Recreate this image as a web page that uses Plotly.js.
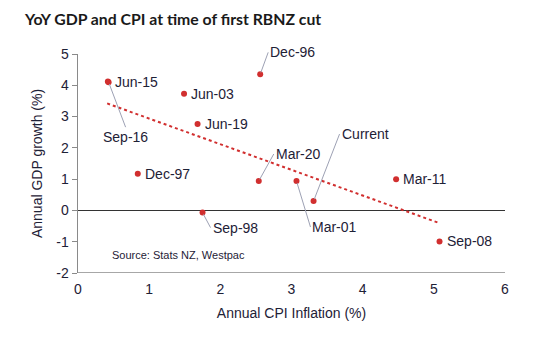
<!DOCTYPE html>
<html>
<head>
<meta charset="utf-8">
<script src="https://cdn.plot.ly/plotly-3.0.1.min.js"></script>
<style>html,body{margin:0;padding:0;background:#fff}#chart{width:544px;height:348px}</style>
</head>
<body>
<div id="chart"></div>
<script>
// Data
var labels = ["Jun-15", "Sep-16", "Jun-03", "Jun-19", "Dec-96", "Dec-97", "Sep-98", "Mar-20", "Mar-01", "Current", "Mar-11", "Sep-08"];
var cpi    = [0.42, 0.43, 1.49, 1.68, 2.56, 0.84, 1.75, 2.54, 3.07, 3.31, 4.47, 5.08];
var gdp    = [4.12, 4.10, 3.73, 2.76, 4.35, 1.17, -0.07, 0.94, 0.94, 0.30, 1.00, -0.99];
var trendX = [0.41, 5.07];
var trendY = [3.42, -0.40];
var xTicks = [0, 1, 2, 3, 4, 5, 6];
var yTicks = [-2, -1, 0, 1, 2, 3, 4, 5];

var red = '#d12f2f';
var txt = '#1e2136';
var leader = '#9da1b4';
var ff = 'Arial, "Liberation Sans", sans-serif';

// label placement (pixel offsets); null => plain label beside point
var place = {
  "Jun-15": null, "Jun-03": null, "Jun-19": null, "Dec-97": null, "Mar-11": null, "Sep-08": null,
  "Sep-16": {ax: 17, ay: 45, xa: 'center', ya: 'top'},
  "Dec-96": {ax: 8, ay: -22, xa: 'left', ya: 'middle'},
  "Mar-20": {ax: 15, ay: -27, xa: 'left', ya: 'middle'},
  "Current": {ax: 26, ay: -67, xa: 'left', ya: 'middle'},
  "Mar-01": {ax: 14, ay: 46, xa: 'left', ya: 'middle'},
  "Sep-98": {ax: 8, ay: 15, xa: 'left', ya: 'middle'}
};

var annotations = labels.map(function (lab, i) {
  var p = place[lab];
  if (!p) {
    return {x: cpi[i], y: gdp[i], xref: 'x', yref: 'y', text: lab, showarrow: false,
            xanchor: 'left', yanchor: 'middle', xshift: 5,
            font: {family: ff, size: 14, color: txt}};
  }
  return {x: cpi[i], y: gdp[i], xref: 'x', yref: 'y', text: lab, showarrow: true,
          ax: p.ax, ay: p.ay, xanchor: p.xa, yanchor: p.ya, arrowhead: 0, arrowwidth: 1,
          arrowcolor: leader, standoff: 2,
          font: {family: ff, size: 14, color: txt}};
});
annotations.push({xref: 'paper', yref: 'paper', x: 0.076, y: 0.08, xanchor: 'left', yanchor: 'middle',
  text: 'Source: Stats NZ, Westpac', showarrow: false,
  font: {family: ff, size: 11, color: txt}});

var traces = [
  {x: trendX, y: trendY, mode: 'lines', type: 'scatter', hoverinfo: 'skip',
   line: {color: red, width: 2, dash: 'dot'}},
  {x: cpi, y: gdp, mode: 'markers', type: 'scatter', text: labels,
   marker: {color: red, size: 6}}
];

var layout = {
  width: 544, height: 348,
  margin: {l: 78, r: 39, t: 54, b: 75},
  paper_bgcolor: '#fff', plot_bgcolor: '#fff',
  showlegend: false,
  title: {text: '<b>YoY GDP and CPI at time of first RBNZ cut</b>', x: 0.046, xanchor: 'left', y: 0.945, yanchor: 'middle',
          font: {family: 'Lato, "Open Sans", sans-serif', size: 15.8, color: '#1a1a1a'}},
  font: {family: ff, size: 14, color: txt},
  xaxis: {range: [0, 6], tickvals: xTicks, ticktext: xTicks.map(String), showgrid: false, zeroline: false,
          showline: false, ticks: '', ticklabelstandoff: 6,
          tickfont: {family: ff, size: 14, color: txt},
          title: {text: 'Annual CPI Inflation (%)', standoff: 12, font: {family: ff, size: 14, color: txt}}},
  yaxis: {range: [-2, 5], tickvals: yTicks, ticktext: yTicks.map(String), showgrid: false,
          zeroline: true, zerolinecolor: '#333', zerolinewidth: 1,
          tickfont: {family: ff, size: 14, color: txt},
          showline: true, linecolor: '#8a8a8a', linewidth: 1.5, ticks: 'outside', ticklen: 5, tickcolor: '#8a8a8a',
          title: {text: 'Annual GDP growth (%)', standoff: 10, font: {family: ff, size: 14, color: txt}}},
  shapes: [{type: 'line', xref: 'paper', yref: 'y', x0: 0, x1: 1, y0: -2, y1: -2,
            line: {color: '#8a8a8a', width: 1.5}}],
  annotations: annotations
};

Plotly.newPlot('chart', traces, layout, {displayModeBar: false, staticPlot: true});
</script>
</body>
</html>
